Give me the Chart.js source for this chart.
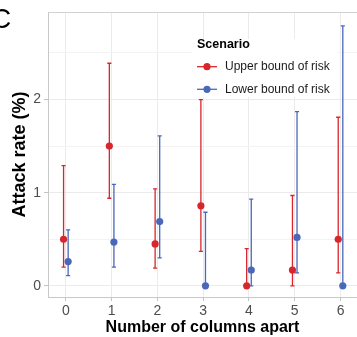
<!DOCTYPE html>
<html>
<head>
<meta charset="utf-8">
<script src="https://cdn.jsdelivr.net/npm/chart.js@4"></script>
<style>
  body { margin: 0; background: #fff; }
  #wrap { width: 357px; height: 337px; position: relative; }
</style>
</head>
<body>
<div id="wrap"><canvas id="chart"></canvas></div>
<script>
// columns apart and attack rates (%) with 95% bounds
const columns = [0, 1, 2, 3, 4, 5, 6];
const upperRate = [0.50, 1.50, 0.45, 0.86, 0.00, 0.17, 0.50];
const upperLow  = [0.20, 0.94, 0.19, 0.37, 0.00, 0.00, 0.14];
const upperHigh = [1.29, 2.39, 1.04, 2.00, 0.40, 0.97, 1.81];
const lowerRate = [0.26, 0.47, 0.69, 0.00, 0.17, 0.52, 0.00];
const lowerLow  = [0.11, 0.20, 0.30, 0.00, 0.00, 0.14, 0.00];
const lowerHigh = [0.60, 1.09, 1.61, 0.79, 0.93, 1.87, 2.79];
const seriesNames = ["Upper bound of risk", "Lower bound of risk"];
const yTicks = [0, 0.5, 1, 1.5, 2, 2.5];

const RED = "#D7262C";
const BLUE = "#4A68BA";
const FONT = "'Liberation Sans', Arial, sans-serif";
const dodge = 0.05;

const mk = (rate, lo, hi, shift) => columns.map((c, i) => ({ x: c + shift, y: rate[i], lo: lo[i], hi: hi[i] }));

const errorBars = {
    id: "errorBars",
    beforeDatasetsDraw(chart) {
        const ctx = chart.ctx;
        const xs = chart.scales.x, ys = chart.scales.y;
        chart.data.datasets.forEach(ds => {
            ctx.save();
            ctx.strokeStyle = ds.backgroundColor;
            ctx.lineWidth = 1.3;
            ds.data.forEach(p => {
                const x = xs.getPixelForValue(p.x);
                const x0 = xs.getPixelForValue(p.x - 0.045);
                const x1 = xs.getPixelForValue(p.x + 0.045);
                const yl = ys.getPixelForValue(p.lo);
                const yh = ys.getPixelForValue(p.hi);
                ctx.beginPath();
                ctx.moveTo(x, yl); ctx.lineTo(x, yh);
                ctx.moveTo(x0, yl); ctx.lineTo(x1, yl);
                ctx.moveTo(x0, yh); ctx.lineTo(x1, yh);
                ctx.stroke();
            });
            ctx.restore();
        });
    },
    afterDraw(chart) {
        const ctx = chart.ctx;
        const a = chart.chartArea;
        ctx.save();
        // top panel border
        ctx.strokeStyle = "#D2D2D2";
        ctx.lineWidth = 1;
        ctx.beginPath();
        ctx.moveTo(a.left, a.top + 0.5); ctx.lineTo(a.right, a.top + 0.5);
        ctx.stroke();

        // panel tag
        ctx.fillStyle = "#000";
        ctx.font = "28px " + FONT;
        ctx.textBaseline = "alphabetic";
        ctx.fillText("C", -9, 28);

        // legend
        ctx.fillStyle = "#fff";
        ctx.fillRect(192, 39, 145, 58);
        ctx.fillStyle = "#000";
        ctx.font = "bold 12.5px " + FONT;
        ctx.fillText("Scenario", 197, 48);
        const rows = [66.7, 89.3];
        chart.data.datasets.forEach((ds, i) => {
            const y = rows[i];
            ctx.strokeStyle = ds.backgroundColor;
            ctx.lineWidth = 1.3;
            ctx.beginPath();
            ctx.moveTo(197, y); ctx.lineTo(217, y);
            ctx.stroke();
            ctx.fillStyle = ds.backgroundColor;
            ctx.beginPath();
            ctx.arc(207, y, 3.6, 0, Math.PI * 2);
            ctx.fill();
            ctx.fillStyle = "#1a1a1a";
            ctx.font = "12px " + FONT;
            ctx.textBaseline = "middle";
            ctx.fillText(ds.label, 225, y);
            ctx.textBaseline = "alphabetic";
        });
        ctx.restore();
    }
};

new Chart(document.getElementById("chart"), {
    type: "scatter",
    data: {
        datasets: [
            { label: seriesNames[0], data: mk(upperRate, upperLow, upperHigh, -dodge), backgroundColor: RED, borderWidth: 0, pointRadius: 3.6 },
            { label: seriesNames[1], data: mk(lowerRate, lowerLow, lowerHigh, dodge), backgroundColor: BLUE, borderWidth: 0, pointRadius: 3.6 }
        ]
    },
    options: {
        responsive: true,
        maintainAspectRatio: false,
        animation: false,
        layout: { autoPadding: false, padding: { top: 12, right: 0, left: 0, bottom: 0 } },
        plugins: { legend: { display: false }, tooltip: { enabled: false } },
        scales: {
            x: {
                type: "linear",
                min: -0.39,
                max: 6.36,
                afterBuildTicks: s => { s.ticks = columns.map(v => ({ value: v })); },
                afterFit: s => { s.height = 40; },
                grid: { color: "#EBEBEB", lineWidth: 1, tickLength: 4, tickColor: "#C4C4C4" },
                border: { display: true, color: "#C8C8C8", width: 1 },
                ticks: { color: "#4D4D4D", font: { family: FONT, size: 14 }, padding: 2, maxRotation: 0 },
                title: { display: true, text: "Number of columns apart", color: "#000", font: { family: FONT, size: 16, weight: "bold" }, padding: { top: 0, bottom: 0 } }
            },
            y: {
                min: -0.12,
                max: 2.94,
                afterBuildTicks: s => { s.ticks = yTicks.map(v => ({ value: v })); },
                afterFit: s => { s.width = 48; },
                grid: {
                    color: c => (c.tick && c.tick.value % 1 !== 0) ? "#F3F3F3" : "#EBEBEB",
                    lineWidth: 1,
                    tickLength: 4,
                    tickColor: c => (c.tick && c.tick.value % 1 !== 0) ? "rgba(0,0,0,0)" : "#C4C4C4"
                },
                border: { display: true, color: "#C8C8C8", width: 1 },
                ticks: {
                    color: "#4D4D4D",
                    font: { family: FONT, size: 14 },
                    padding: 3,
                    callback: v => (v % 1 === 0 ? String(v) : "")
                },
                title: { display: true, text: "Attack rate (%)", color: "#000", font: { family: FONT, size: 18, weight: "bold" }, padding: { top: 9, bottom: 0 } }
            }
        }
    },
    plugins: [errorBars]
});
</script>
</body>
</html>
